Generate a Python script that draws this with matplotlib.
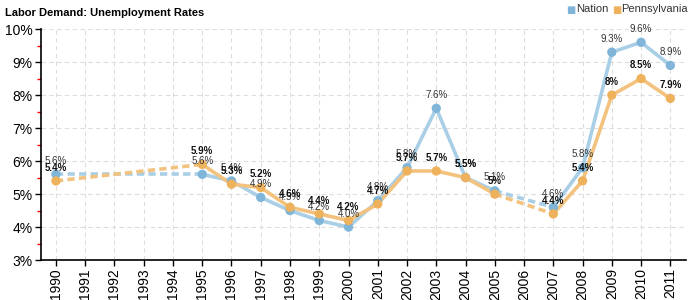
import numpy as np
import matplotlib.pyplot as plt

plt.rcParams['font.family'] = ['Liberation Sans', 'DejaVu Sans']

years = list(range(1990, 2012))
nation = [5.6, None, None, None, None, 5.6, 5.4, 4.9, 4.5, 4.2, 4.0, 4.8, 5.8, 7.6, 5.5, 5.1, None, 4.6, 5.8, 9.3, 9.6, 8.9]
penn = [5.4, None, None, None, None, 5.9, 5.3, 5.2, 4.6, 4.4, 4.2, 4.7, 5.7, 5.7, 5.5, 5.0, None, 4.4, 5.4, 8.0, 8.5, 7.9]
y_ticks = [3, 4, 5, 6, 7, 8, 9, 10]

blue_line = "#a9cfe6"
blue_mark = "#7fb5d8"
orange_line = "#f3c27e"
orange_mark = "#eeb15c"

fig = plt.figure(figsize=(7, 3), dpi=100)
ax = fig.add_axes([0.0586, 0.133, 0.922, 0.77])


def draw(vals, lc, mc, bold, fmt):
    pts = [(x, v) for x, v in zip(years, vals) if v is not None]
    for (x0, v0), (x1, v1) in zip(pts[:-1], pts[1:]):
        ls = "-" if x1 - x0 == 1 else (0, (2, 1.2))
        ax.plot([x0, x1], [v0, v1], color=lc, lw=2.6, ls=ls, zorder=3,
                solid_capstyle="round")
    xs = [p[0] for p in pts]
    vs = [p[1] for p in pts]
    ax.scatter(xs, vs, s=45, color=mc, zorder=4, edgecolors="none")
    for x, v in pts:
        lab = (fmt % v) + "%"
        ax.annotate(lab, (x, v), xytext=(0, 6), textcoords="offset points",
                    ha="center", va="bottom", fontsize=7,
                    fontweight="bold" if bold else "normal",
                    color="#111111" if bold else "#333333", zorder=5)


draw(nation, blue_line, blue_mark, False, "%.1f")
draw(penn, orange_line, orange_mark, True, "%g")

ax.set_xlim(1989.49, 2011.55)
ax.set_ylim(3, 10)
ax.set_xticks(years)
ax.set_xticklabels([str(y) for y in years], rotation=90, fontsize=10)
ax.set_yticks(y_ticks)
ax.set_yticklabels([str(t) + "%" for t in y_ticks], fontsize=10)
ax.set_yticks(np.arange(3.5, 10, 1), minor=True)
ax.tick_params(axis="y", which="minor", length=3, color="red", width=1)
ax.tick_params(axis="y", which="major", length=4, width=1, pad=2)
ax.tick_params(axis="x", length=4, width=1, pad=2)
ax.grid(True, which="major", ls=(0, (4, 3)), color="#dddddd", lw=0.8)
for s in ["top", "right"]:
    ax.spines[s].set_visible(False)
for s in ["left", "bottom"]:
    ax.spines[s].set_linewidth(1.2)

fig.text(0.007, 0.975, "Labor Demand: Unemployment Rates", fontsize=8,
         fontweight="bold", va="top", ha="left")

# legend, drawn by hand
fig.text(0.809, 0.983, "\u25a0", color=blue_mark, fontsize=7, va="top",
         family="DejaVu Sans")
fig.text(0.823, 0.985, "Nation", color="#333333", fontsize=8, va="top")
fig.text(0.875, 0.983, "\u25a0", color=orange_mark, fontsize=7, va="top",
         family="DejaVu Sans")
fig.text(0.887, 0.985, "Pennsylvania", color="#333333", fontsize=8, va="top")

fig.savefig("out.png", dpi=100)
